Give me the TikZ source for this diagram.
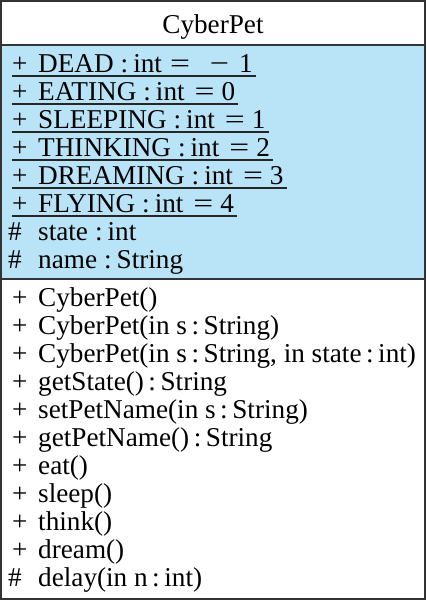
\documentclass[tikz,border=0pt]{standalone}
\usepackage{fontspec}
\setmainfont{Liberation Serif}
\definecolor{attrblue}{HTML}{B9E3F7}
\definecolor{edge}{HTML}{333333}
\newcommand\clnsep{\hspace{7pt}:\hspace{5pt}}
\newcommand\wideeq{\scalebox{1.3}[1]{=}}
\newcommand\wideminus{\scalebox{1.25}[1]{−}}
\newcommand\eqsep{\hspace{10pt}\wideeq\hspace{7pt}}
\begin{document}
\begin{tikzpicture}[x=1pt,y=-1pt,
  txt/.style={anchor=base west,inner sep=0pt,font=\fontsize{27.2}{28}\selectfont},
  sym/.style={anchor=base west,inner sep=0pt,font=\fontsize{27.2}{28}\selectfont},
  uline/.style={line width=1.6pt,draw=black!85}]
\useasboundingbox (0,0) rectangle (426,600);
\fill[attrblue] (1,45) rectangle (425,279);
\draw[edge,line width=2.2pt] (1.1,1.1) rectangle (424.9,598.9);
\draw[edge,line width=2.2pt] (1,45) -- (425,45);
\draw[edge,line width=2.2pt] (1,279) -- (425,279);
\node[anchor=base,inner sep=0pt,font=\fontsize{27.2}{28}\selectfont] (title) at (213,33) {CyberPet};
% attributes
\foreach \n/\y/\t in {a1/72/{DEAD\clnsep int\hspace{8pt}\wideeq\hspace{20pt}\wideminus\hspace{10pt}1},a2/100/{EATING\clnsep int\eqsep 0},a3/128/{SLEEPING\clnsep int\eqsep 1},a4/156/{THINKING\clnsep int\eqsep 2},a5/184/{DREAMING\clnsep int\eqsep 3},a6/212/{FLYING\clnsep int\eqsep 4}}{
  \node[sym] (\n s) at (12,\y) {+};
  \node[txt] (\n) at (38,\y) {\t};
  \draw[uline] ([yshift=-4pt]\n s.base west) -- ([yshift=-4pt,xshift=3pt]\n.base east);
}
\node[sym] (a7s) at (8,240) {\#};
\node[txt] (a7) at (38,240) {state\clnsep int};
\node[sym] (a8s) at (8,268) {\#};
\node[txt] (a8) at (38,268) {name\clnsep String};
% methods
\foreach \n/\y/\t in {m1/306/{CyberPet()},m2/334/{CyberPet(in s\,:\,String)},m3/362/{CyberPet(in s\,:\,String, in state\,:\,int)},m4/390/{getState()\,:\,String},m5/418/{setPetName(in s\,:\,String)},m6/446/{getPetName()\,:\,String},m7/474/{eat()},m8/502/{sleep()},m9/530/{think()},m10/558/{dream()}}{
  \node[sym] (\n s) at (12,\y) {+};
  \node[txt] (\n) at (38,\y) {\t};
}
\node[sym] (m11s) at (8,586) {\#};
\node[txt] (m11) at (38,586) {delay(in n\,:\,int)};
\end{tikzpicture}
\end{document}
